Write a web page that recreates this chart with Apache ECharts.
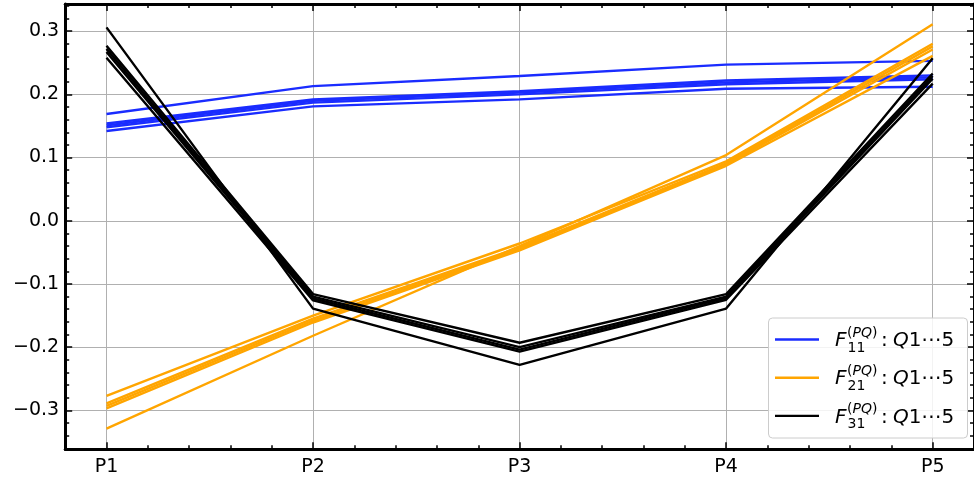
<!DOCTYPE html>
<html>
<head>
<meta charset="utf-8">
<script src="https://cdn.jsdelivr.net/npm/echarts@6/dist/echarts.min.js"></script>
<style>html,body{margin:0;padding:0;background:#fff;}#c{width:974px;height:479px;}</style>
</head>
<body>
<div id="c"></div>
<script>
// ---- data ----
const categories = ['P1', 'P2', 'P3', 'P4', 'P5'];
const yTickValues = [-0.3, -0.2, -0.1, 0.0, 0.1, 0.2, 0.3];

// F11 (blue) Q1..Q5
const f11_q1 = [0.169, 0.213, 0.229, 0.247, 0.253];
const f11_q2 = [0.154, 0.192, 0.205, 0.222, 0.230];
const f11_q3 = [0.151, 0.190, 0.203, 0.219, 0.227];
const f11_q4 = [0.148, 0.187, 0.200, 0.216, 0.224];
const f11_q5 = [0.142, 0.181, 0.192, 0.209, 0.212];

// F21 (orange) Q1..Q5
const f21_q1 = [-0.329, -0.182, -0.040, 0.104, 0.311];
const f21_q2 = [-0.277, -0.150, -0.036, 0.094, 0.280];
const f21_q3 = [-0.289, -0.155, -0.042, 0.091, 0.276];
const f21_q4 = [-0.293, -0.158, -0.045, 0.089, 0.271];
const f21_q5 = [-0.297, -0.161, -0.047, 0.087, 0.261];

// F31 (black) Q1..Q5
const f31_q1 = [0.306, -0.139, -0.228, -0.139, 0.257];
const f31_q2 = [0.277, -0.116, -0.193, -0.116, 0.233];
const f31_q3 = [0.272, -0.120, -0.200, -0.120, 0.229];
const f31_q4 = [0.267, -0.123, -0.204, -0.122, 0.225];
const f31_q5 = [0.258, -0.126, -0.207, -0.125, 0.217];

const groups = [
  { key: 'F11', color: '#1a2cff', sub: '11', lines: [f11_q1, f11_q2, f11_q3, f11_q4, f11_q5] },
  { key: 'F21', color: '#ffa500', sub: '21', lines: [f21_q1, f21_q2, f21_q3, f21_q4, f21_q5] },
  { key: 'F31', color: '#000000', sub: '31', lines: [f31_q1, f31_q2, f31_q3, f31_q4, f31_q5] }
];

// ---- chart ----
const FONT = 'DejaVu Sans';
const chart = echarts.init(document.getElementById('c'), null, { renderer: 'canvas' });

const xMajor = categories.map((_, i) => i);
const xMinor = [];
for (let k = 1; k < 21; k++) { if (k % 5 !== 0) xMinor.push(+(k * 0.2).toFixed(4)); }
const yMinor = [];
for (let k = -18; k <= 17; k++) { if (k % 5 !== 0) yMinor.push(+(k * 0.02).toFixed(4)); }

const XMIN = -0.2, XMAX = 4.2, YMIN = -0.3615, YMAX = 0.343;

function xAxisDef(pos, major, withLabels) {
  return {
    type: 'value', position: pos, min: XMIN, max: XMAX,
    axisLine: { show: major, onZero: false, lineStyle: { color: '#000', width: 3 } },
    axisTick: { show: true, inside: true, length: major ? 7 : 4, customValues: major ? xMajor : xMinor,
                lineStyle: { color: '#000', width: 1.5 } },
    axisLabel: { show: withLabels, customValues: xMajor, margin: 8,
                 formatter: v => categories[Math.round(v)], color: '#000', fontFamily: FONT, fontSize: 19 },
    splitLine: { show: major && withLabels, lineStyle: { color: '#b0b0b0', width: 1 } },
    minorTick: { show: false }
  };
}
function yAxisDef(pos, major, withLabels) {
  return {
    type: 'value', position: pos, min: YMIN, max: YMAX,
    axisLine: { show: major, onZero: false, lineStyle: { color: '#000', width: 3 } },
    axisTick: { show: true, inside: true, length: major ? 7 : 4, customValues: major ? yTickValues : yMinor,
                lineStyle: { color: '#000', width: 1.5 } },
    axisLabel: { show: withLabels, customValues: yTickValues, margin: 6,
                 formatter: v => (v < -1e-9 ? '\u2212' : '') + Math.abs(v).toFixed(1),
                 color: '#000', fontFamily: FONT, fontSize: 19 },
    splitLine: { show: major && withLabels, lineStyle: { color: '#b0b0b0', width: 1 } }
  };
}

const series = [];
groups.forEach(g => {
  g.lines.forEach((arr, qi) => {
    series.push({
      name: g.key + ' Q' + (qi + 1),
      type: 'line',
      xAxisIndex: 0, yAxisIndex: 0,
      data: arr.map((v, i) => [i, v]),
      showSymbol: false, symbol: 'none',
      lineStyle: { color: g.color, width: 2.4 },
      itemStyle: { color: g.color },
      clip: true,
      z: 3
    });
  });
});

// legend (drawn as graphic: stacked sub/superscripts)
const legendGraphics = [];
const LX = 768.5, LY = 318, LW = 199, LH = 120;
legendGraphics.push({ type: 'rect', shape: { x: LX, y: LY, width: LW, height: LH, r: 4 },
  style: { fill: 'rgba(255,255,255,0.85)', stroke: '#cccccc', lineWidth: 1 }, z: 100 });
groups.forEach((g, i) => {
  const cy = 339.5 + i * 38.2;
  legendGraphics.push({ type: 'line', shape: { x1: 775, y1: cy, x2: 819, y2: cy },
    style: { stroke: g.color, lineWidth: 2.4 }, z: 101 });
  legendGraphics.push({ type: 'text', x: 835, y: cy + 1.5, z: 101,
    style: { text: 'F', font: 'italic 20px "DejaVu Sans"', fill: '#000', textVerticalAlign: 'middle' } });
  legendGraphics.push({ type: 'text', x: 847, y: cy - 6.5, z: 101,
    style: { text: '{r|(}{i|PQ}{r|)}', fill: '#000', textVerticalAlign: 'middle',
      rich: { r: { fontFamily: FONT, fontSize: 14 }, i: { fontFamily: FONT, fontSize: 14, fontStyle: 'italic' } } } });
  legendGraphics.push({ type: 'text', x: 847.5, y: cy + 8.5, z: 101,
    style: { text: g.sub, font: '14px "DejaVu Sans"', fill: '#000', textVerticalAlign: 'middle' } });
  legendGraphics.push({ type: 'text', x: 881, y: cy + 1.5, z: 101,
    style: { text: ':', font: '20px "DejaVu Sans"', fill: '#000', textVerticalAlign: 'middle' } });
  legendGraphics.push({ type: 'text', x: 893, y: cy + 1.5, z: 101,
    style: { text: '{i|Q}{r|1\u22EF5}', fill: '#000', textVerticalAlign: 'middle',
      rich: { r: { fontFamily: FONT, fontSize: 20 }, i: { fontFamily: FONT, fontSize: 20, fontStyle: 'italic' } } } });
});

chart.setOption({
  animation: false,
  backgroundColor: '#ffffff',
  grid: { left: 65.2, right: -4.5, top: 4, bottom: 29.8, containLabel: false },
  xAxis: [
    xAxisDef('bottom', true, true),
    xAxisDef('bottom', false, false),
    xAxisDef('top', true, false),
    xAxisDef('top', false, false)
  ],
  yAxis: [
    yAxisDef('left', true, true),
    yAxisDef('left', false, false),
    yAxisDef('right', true, false),
    yAxisDef('right', false, false)
  ],
  series: series,
  graphic: legendGraphics
});
</script>
</body>
</html>
